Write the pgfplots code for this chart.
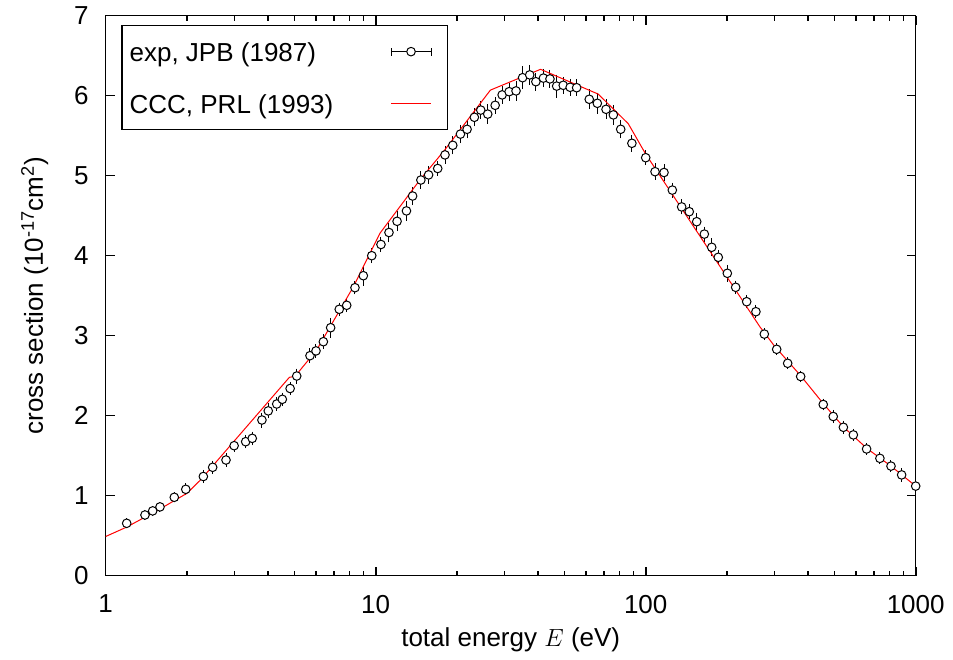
\documentclass[border=0pt]{standalone}
\usepackage{pgfplots}
\pgfplotsset{compat=1.18}
\usepackage{fontspec}
\setmainfont{Liberation Sans}
\definecolor{cccred}{RGB}{255,0,0}
\begin{document}
\begin{tikzpicture}
\begin{axis}[
  at={(0,0)}, anchor=south west,
  scale only axis, width=810bp, height=560bp,
  xmode=log, log basis x=10,
  xmin=1, xmax=1000, ymin=0, ymax=7,
  xtick={1,10,100,1000}, xticklabels={1,10,100,1000},
  minor xtick={2,3,4,5,6,7,8,9,20,30,40,50,60,70,80,90,200,300,400,500,600,700,800,900},
  ytick={0,1,2,3,4,5,6,7},
  tick align=inside,
  xtick pos=both, ytick pos=both,
  major tick length=9bp, minor tick length=5bp,
  xtick style={draw=black, line width=1.6bp},
  ytick style={draw=black, line width=1.3bp},
  minor tick style={draw=black, line width=1.6bp},
  axis line style={line width=1.3bp},
  font=\fontsize{26bp}{31bp}\selectfont,
  /pgf/number format/assume math mode=true,
  xticklabel style={inner sep=0pt, anchor=north, yshift=-19bp},
  yticklabel style={inner sep=0pt, anchor=east, xshift=-17bp},
  xlabel={total energy $E$ (eV)},
  ylabel={cross section (10\textsuperscript{-17}cm\textsuperscript{2})},
  xlabel style={at={(axis description cs:0.5,-0.1143)}, anchor=center, inner sep=0pt},
  ylabel style={at={(axis description cs:-0.0877,0.5)}, anchor=center, inner sep=0pt},
  legend style={at={(axis description cs:0,1)}, anchor=north west,
    xshift=15.6bp, yshift=-9.3bp, draw=black, line width=1.3bp,
    inner xsep=7.7bp, inner ysep=0pt, row sep=0pt, column sep=57bp,
    font=\fontsize{26bp}{31bp}\selectfont,
    nodes={inner sep=0pt, text height=36bp, text depth=16bp}},
  legend cell align=left,
  legend plot pos=right,
]
\addplot[black, only marks, mark=*, mark size=4.3bp,
  mark options={fill=white, draw=black, line width=1bp},
  legend image code/.code={
    \draw[draw=black, line width=1bp] (0bp,0bp) -- (40bp,0bp);
    \draw[draw=black, line width=1bp] (0bp,-4bp) -- (0bp,4bp) (40bp,-4bp) -- (40bp,4bp);
    \draw[draw=black, line width=1bp, fill=white] (20bp,0bp) circle (4.3bp);
    \pgfpathmoveto{\pgfqpoint{49bp}{0bp}}\pgfusepath{discard}
  },
  error bars/.cd, y dir=both, y explicit,
  error bar style={black, line width=1bp},
  error mark=-, error mark options={black, line width=1bp, mark size=3.5bp}]
  table[x=x, y=y, y error=e] {
x y e
1.196 0.655 0.02
1.398 0.759 0.02
1.493 0.81 0.02
1.589 0.86 0.02
1.795 0.98 0.02
1.98 1.08 0.03
2.30 1.24 0.04
2.49 1.355 0.04
2.79 1.446 0.04
2.99 1.625 0.03
3.30 1.675 0.04
3.49 1.717 0.04
3.79 1.946 0.05
4.00 2.06 0.05
4.30 2.146 0.04
4.51 2.205 0.04
4.82 2.34 0.04
5.10 2.496 0.05
5.71 2.75 0.05
6.01 2.81 0.04
6.40 2.925 0.05
6.81 3.10 0.08
7.33 3.33 0.04
7.81 3.38 0.04
8.38 3.60 0.04
9.0 3.75 0.08
9.67 4.00 0.05
10.46 4.14 0.05
11.2 4.29 0.08
12.0 4.43 0.08
13.0 4.56 0.08
13.7 4.746 0.07
14.7 4.946 0.07
15.7 5.01 0.07
16.97 5.09 0.05
18.06 5.26 0.07
19.3 5.38 0.07
20.6 5.52 0.07
21.8 5.58 0.07
23.2 5.73 0.07
24.5 5.82 0.07
26.0 5.77 0.08
27.7 5.88 0.06
29.4 6.01 0.07
31.2 6.05 0.07
33.1 6.06 0.08
35.0 6.225 0.1
37.2 6.26 0.08
39.2 6.175 0.07
41.8 6.22 0.07
44.2 6.21 0.07
46.8 6.12 0.1
49.5 6.13 0.06
52.5 6.105 0.06
55.5 6.10 0.06
61.8 5.955 0.08
66.2 5.905 0.09
71.3 5.83 0.08
75.9 5.76 0.08
80.8 5.58 0.07
88.9 5.405 0.06
100 5.225 0.05
108.3 5.05 0.06
116.9 5.04 0.06
125.5 4.82 0.05
135.9 4.61 0.05
145 4.55 0.05
154.5 4.425 0.07
164.9 4.27 0.05
175.6 4.105 0.07
185.7 3.98 0.05
200.6 3.78 0.06
215.4 3.605 0.04
236.6 3.425 0.04
256 3.30 0.04
275 3.02 0.03
305.6 2.83 0.03
335.6 2.655 0.03
375 2.49 0.03
454.6 2.14 0.03
495 1.99 0.04
539.7 1.855 0.04
587.6 1.76 0.03
658 1.584 0.03
737 1.467 0.03
810 1.37 0.03
887 1.26 0.04
1000 1.12 0.03
};
\addlegendentry{exp, JPB (1987)}
\addplot[draw=cccred, line width=1bp, no marks,
  legend image code/.code={
    \draw[draw=cccred, line width=1.3bp] (0bp,0bp) -- (40bp,0bp);
    \pgfpathmoveto{\pgfqpoint{49bp}{0bp}}\pgfusepath{discard}
  }] coordinates {
(1,0.49) (1.2,0.61) (1.6,0.84) (2.0,1.03) (2.25,1.20) (4.79,2.48) (5.02,2.49)
(6.04,2.82) (8.26,3.61) (10.37,4.28) (14.6,4.95) (18,5.32) (26.6,6.07) (40.8,6.33) (66.7,6.02)
(86.2,5.65) (100,5.27) (265,3.11) (300,2.87) (375,2.50) (455,2.15)
(540,1.86) (660,1.59) (810,1.37) (1000,1.12)
};
\addlegendentry{CCC, PRL (1993)}
\end{axis}
\pgfresetboundingbox
\path[use as bounding box] (-105.7bp,-84.3bp) rectangle (847.3bp,575.7bp);
\end{tikzpicture}
\end{document}
